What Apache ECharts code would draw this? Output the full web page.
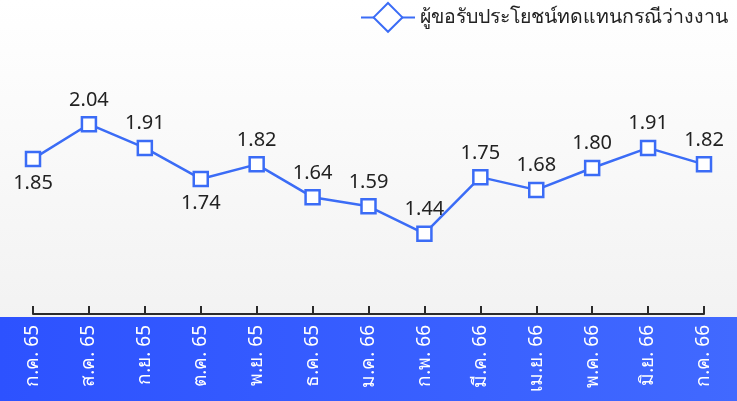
<!doctype html>
<html lang="th">
<head>
<meta charset="utf-8">
<title>ผู้ขอรับประโยชน์ทดแทนกรณีว่างงาน</title>
<script src="https://cdn.jsdelivr.net/npm/echarts@6/dist/echarts.min.js"></script>
<style>
  html, body { margin: 0; padding: 0; }
  #chart { width: 737px; height: 401px; }
</style>
</head>
<body>
<div id="chart"></div>
<script>
var months = ['ก.ค. 65', 'ส.ค. 65', 'ก.ย. 65', 'ต.ค. 65', 'พ.ย. 65', 'ธ.ค. 65',
              'ม.ค. 66', 'ก.พ. 66', 'มี.ค. 66', 'เม.ย. 66', 'พ.ค. 66', 'มิ.ย. 66', 'ก.ค. 66'];
var claimants = [1.85, 2.04, 1.91, 1.74, 1.82, 1.64, 1.59, 1.44, 1.75, 1.68, 1.80, 1.91, 1.82];
var labelBelow = [0, 3];   // which points have their label under the marker

var blue = '#3b6cf6';

var points = claimants.map(function (v, i) {
    return {
        value: v,
        symbol: 'rect',
        label: { position: labelBelow.indexOf(i) >= 0 ? 'bottom' : 'top' }
    };
});

var myChart = echarts.init(document.getElementById('chart'));

myChart.setOption({
    animation: false,
    textStyle: { fontFamily: 'Noto Sans, sans-serif' },
    graphic: [
        {
            type: 'rect', z: -10, silent: true,
            shape: { x: 0, y: 0, width: 737, height: 401 },
            style: {
                fill: new echarts.graphic.LinearGradient(0, 0, 0, 1, [
                    { offset: 0, color: '#ffffff' },
                    { offset: 1, color: '#efefef' }
                ])
            }
        },
        {
            type: 'rect', z: -5, silent: true,
            shape: { x: 0, y: 317, width: 737, height: 84 },
            style: {
                fill: new echarts.graphic.LinearGradient(0, 0, 1, 0, [
                    { offset: 0, color: '#2d52ff' },
                    { offset: 1, color: '#4169ff' }
                ])
            }
        }
    ],
    legend: {
        right: 4, top: -3,
        itemWidth: 54, itemHeight: 36, itemGap: 7,
        textStyle: { fontSize: 19.5, color: '#222' },
        data: ['ผู้ขอรับประโยชน์ทดแทนกรณีว่างงาน']
    },
    grid: { left: 33, right: 33, top: 95, bottom: 87 },
    xAxis: {
        type: 'category',
        boundaryGap: false,
        data: months,
        axisLine: { lineStyle: { color: '#2a2a2a', width: 2 } },
        axisTick: { inside: true, length: 8, lineStyle: { color: '#2a2a2a', width: 2 } },
        axisLabel: { rotate: 90, color: '#ffffff', fontSize: 19, margin: 11, interval: 0 }
    },
    yAxis: {
        type: 'value', min: 1, max: 2.2, show: false,
        splitLine: { show: false }
    },
    series: [{
        name: 'ผู้ขอรับประโยชน์ทดแทนกรณีว่างงาน',
        type: 'line',
        symbol: 'diamond',
        symbolSize: 14,
        data: points,
        lineStyle: { color: blue, width: 2.5 },
        itemStyle: { color: '#ffffff', borderColor: blue, borderWidth: 2.5 },
        label: {
            show: true, fontSize: 20, color: '#222', distance: 6,
            formatter: function (p) { return p.value.toFixed(2); }
        }
    }]
});
</script>
</body>
</html>
